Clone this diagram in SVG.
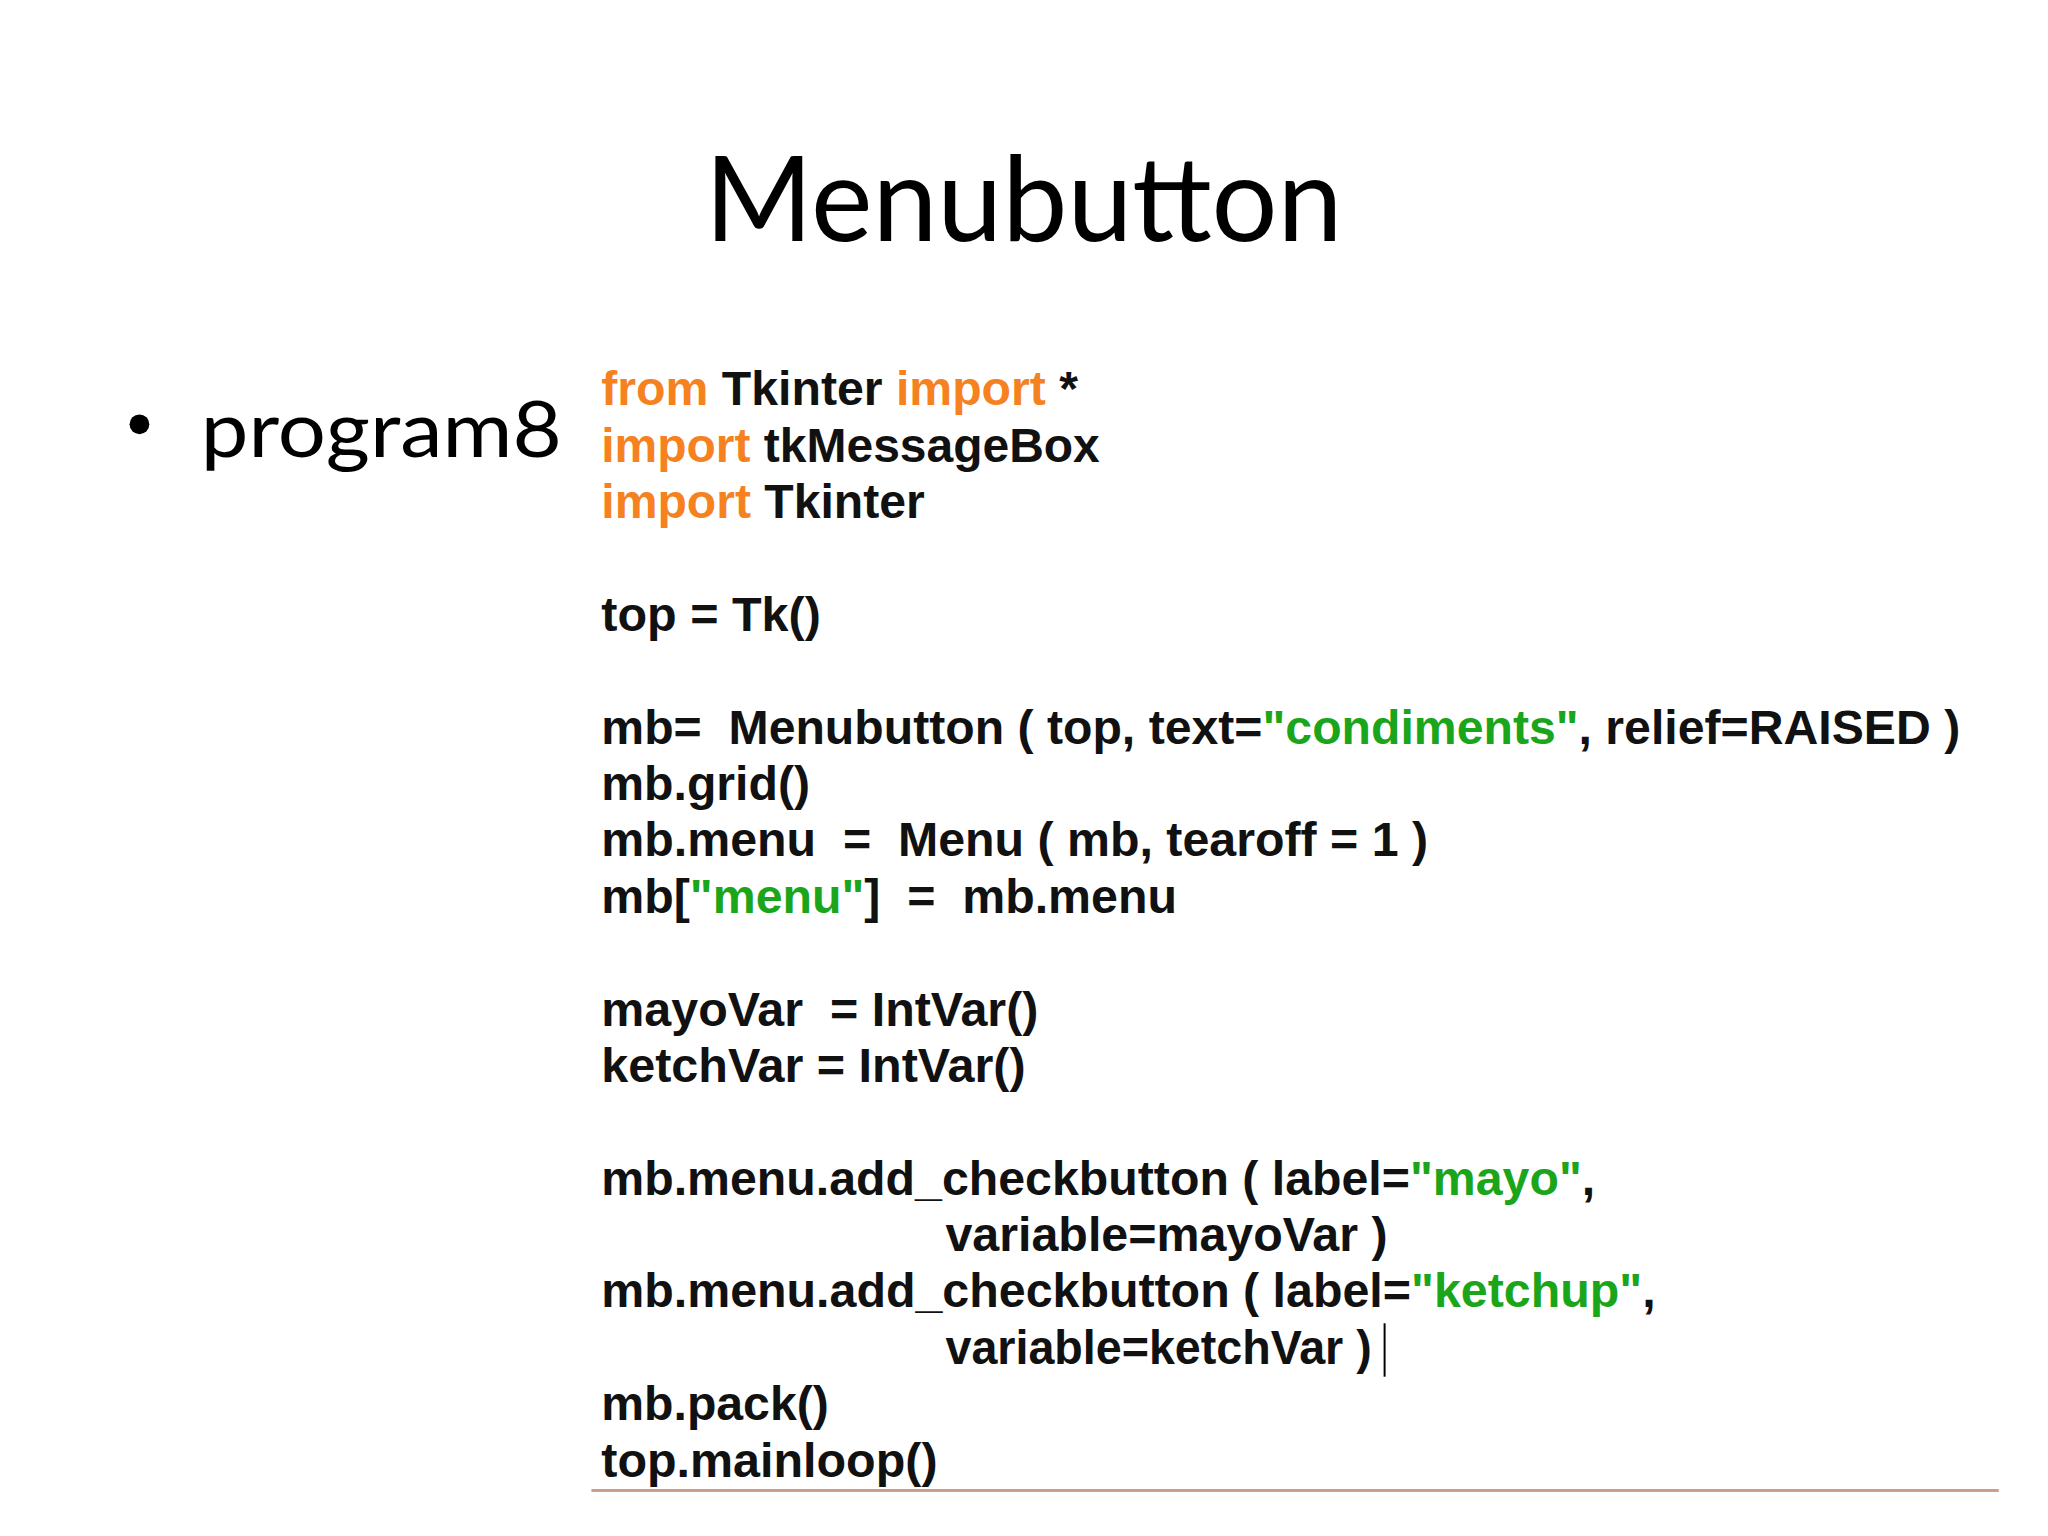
<svg xmlns="http://www.w3.org/2000/svg" width="2048" height="1536" viewBox="0 0 2048 1536">
<style>
.c{font-family:"Liberation Sans",Arial,sans-serif;font-weight:bold;font-size:48px;fill:#111}
.k{fill:#f5821f}.s{fill:#1aa51a}
.t{font-family:Lato,"Open Sans",sans-serif;fill:#000}
</style>
<rect width="2048" height="1536" fill="#fff"/>
<g transform="scale(0.989)">
<text class="t" x="1035" y="244" font-size="120" text-anchor="middle" textLength="645" lengthAdjust="spacingAndGlyphs">Menubutton</text>
<circle cx="141" cy="429" r="10" fill="#000"/>
<text class="t" x="203" y="462" font-size="78" textLength="365" lengthAdjust="spacingAndGlyphs">program8</text>
<g id="code" class="c">
<text x="608" y="410" textLength="482" lengthAdjust="spacingAndGlyphs"><tspan class="k">from</tspan> Tkinter <tspan class="k">import</tspan> *</text>
<text x="608" y="467" textLength="504" lengthAdjust="spacingAndGlyphs"><tspan class="k">import</tspan> tkMessageBox</text>
<text x="608" y="524" textLength="327" lengthAdjust="spacingAndGlyphs"><tspan class="k">import</tspan> Tkinter</text>
<text x="608" y="638" textLength="222" lengthAdjust="spacingAndGlyphs">top = Tk()</text>
<text x="608" y="752" textLength="1374" lengthAdjust="spacingAndGlyphs" xml:space="preserve">mb=  Menubutton ( top, text=<tspan class="s">"condiments"</tspan>, relief=RAISED )</text>
<text x="608" y="809" textLength="211" lengthAdjust="spacingAndGlyphs">mb.grid()</text>
<text x="608" y="866" textLength="836" lengthAdjust="spacingAndGlyphs" xml:space="preserve">mb.menu  =  Menu ( mb, tearoff = 1 )</text>
<text x="608" y="923" textLength="582" lengthAdjust="spacingAndGlyphs" xml:space="preserve">mb[<tspan class="s">"menu"</tspan>]  =  mb.menu</text>
<text x="608" y="1037" textLength="442" lengthAdjust="spacingAndGlyphs" xml:space="preserve">mayoVar  = IntVar()</text>
<text x="608" y="1094" textLength="429" lengthAdjust="spacingAndGlyphs">ketchVar = IntVar()</text>
<text x="608" y="1208" textLength="1005" lengthAdjust="spacingAndGlyphs">mb.menu.add_checkbutton ( label=<tspan class="s">"mayo"</tspan>,</text>
<text x="956" y="1265" textLength="447" lengthAdjust="spacingAndGlyphs">variable=mayoVar )</text>
<text x="608" y="1322" textLength="1066" lengthAdjust="spacingAndGlyphs">mb.menu.add_checkbutton ( label=<tspan class="s">"ketchup"</tspan>,</text>
<text x="956" y="1379" textLength="431" lengthAdjust="spacingAndGlyphs">variable=ketchVar )</text>
<text x="608" y="1436" textLength="230" lengthAdjust="spacingAndGlyphs">mb.pack()</text>
<text x="608" y="1493" textLength="340" lengthAdjust="spacingAndGlyphs">top.mainloop()</text>
</g>
<line x1="1400" y1="1338" x2="1400" y2="1392" stroke="#000" stroke-width="2"/>
<line x1="598" y1="1507" x2="2021" y2="1507" stroke="#c8a08a" stroke-width="3"/>
</g>
</svg>
